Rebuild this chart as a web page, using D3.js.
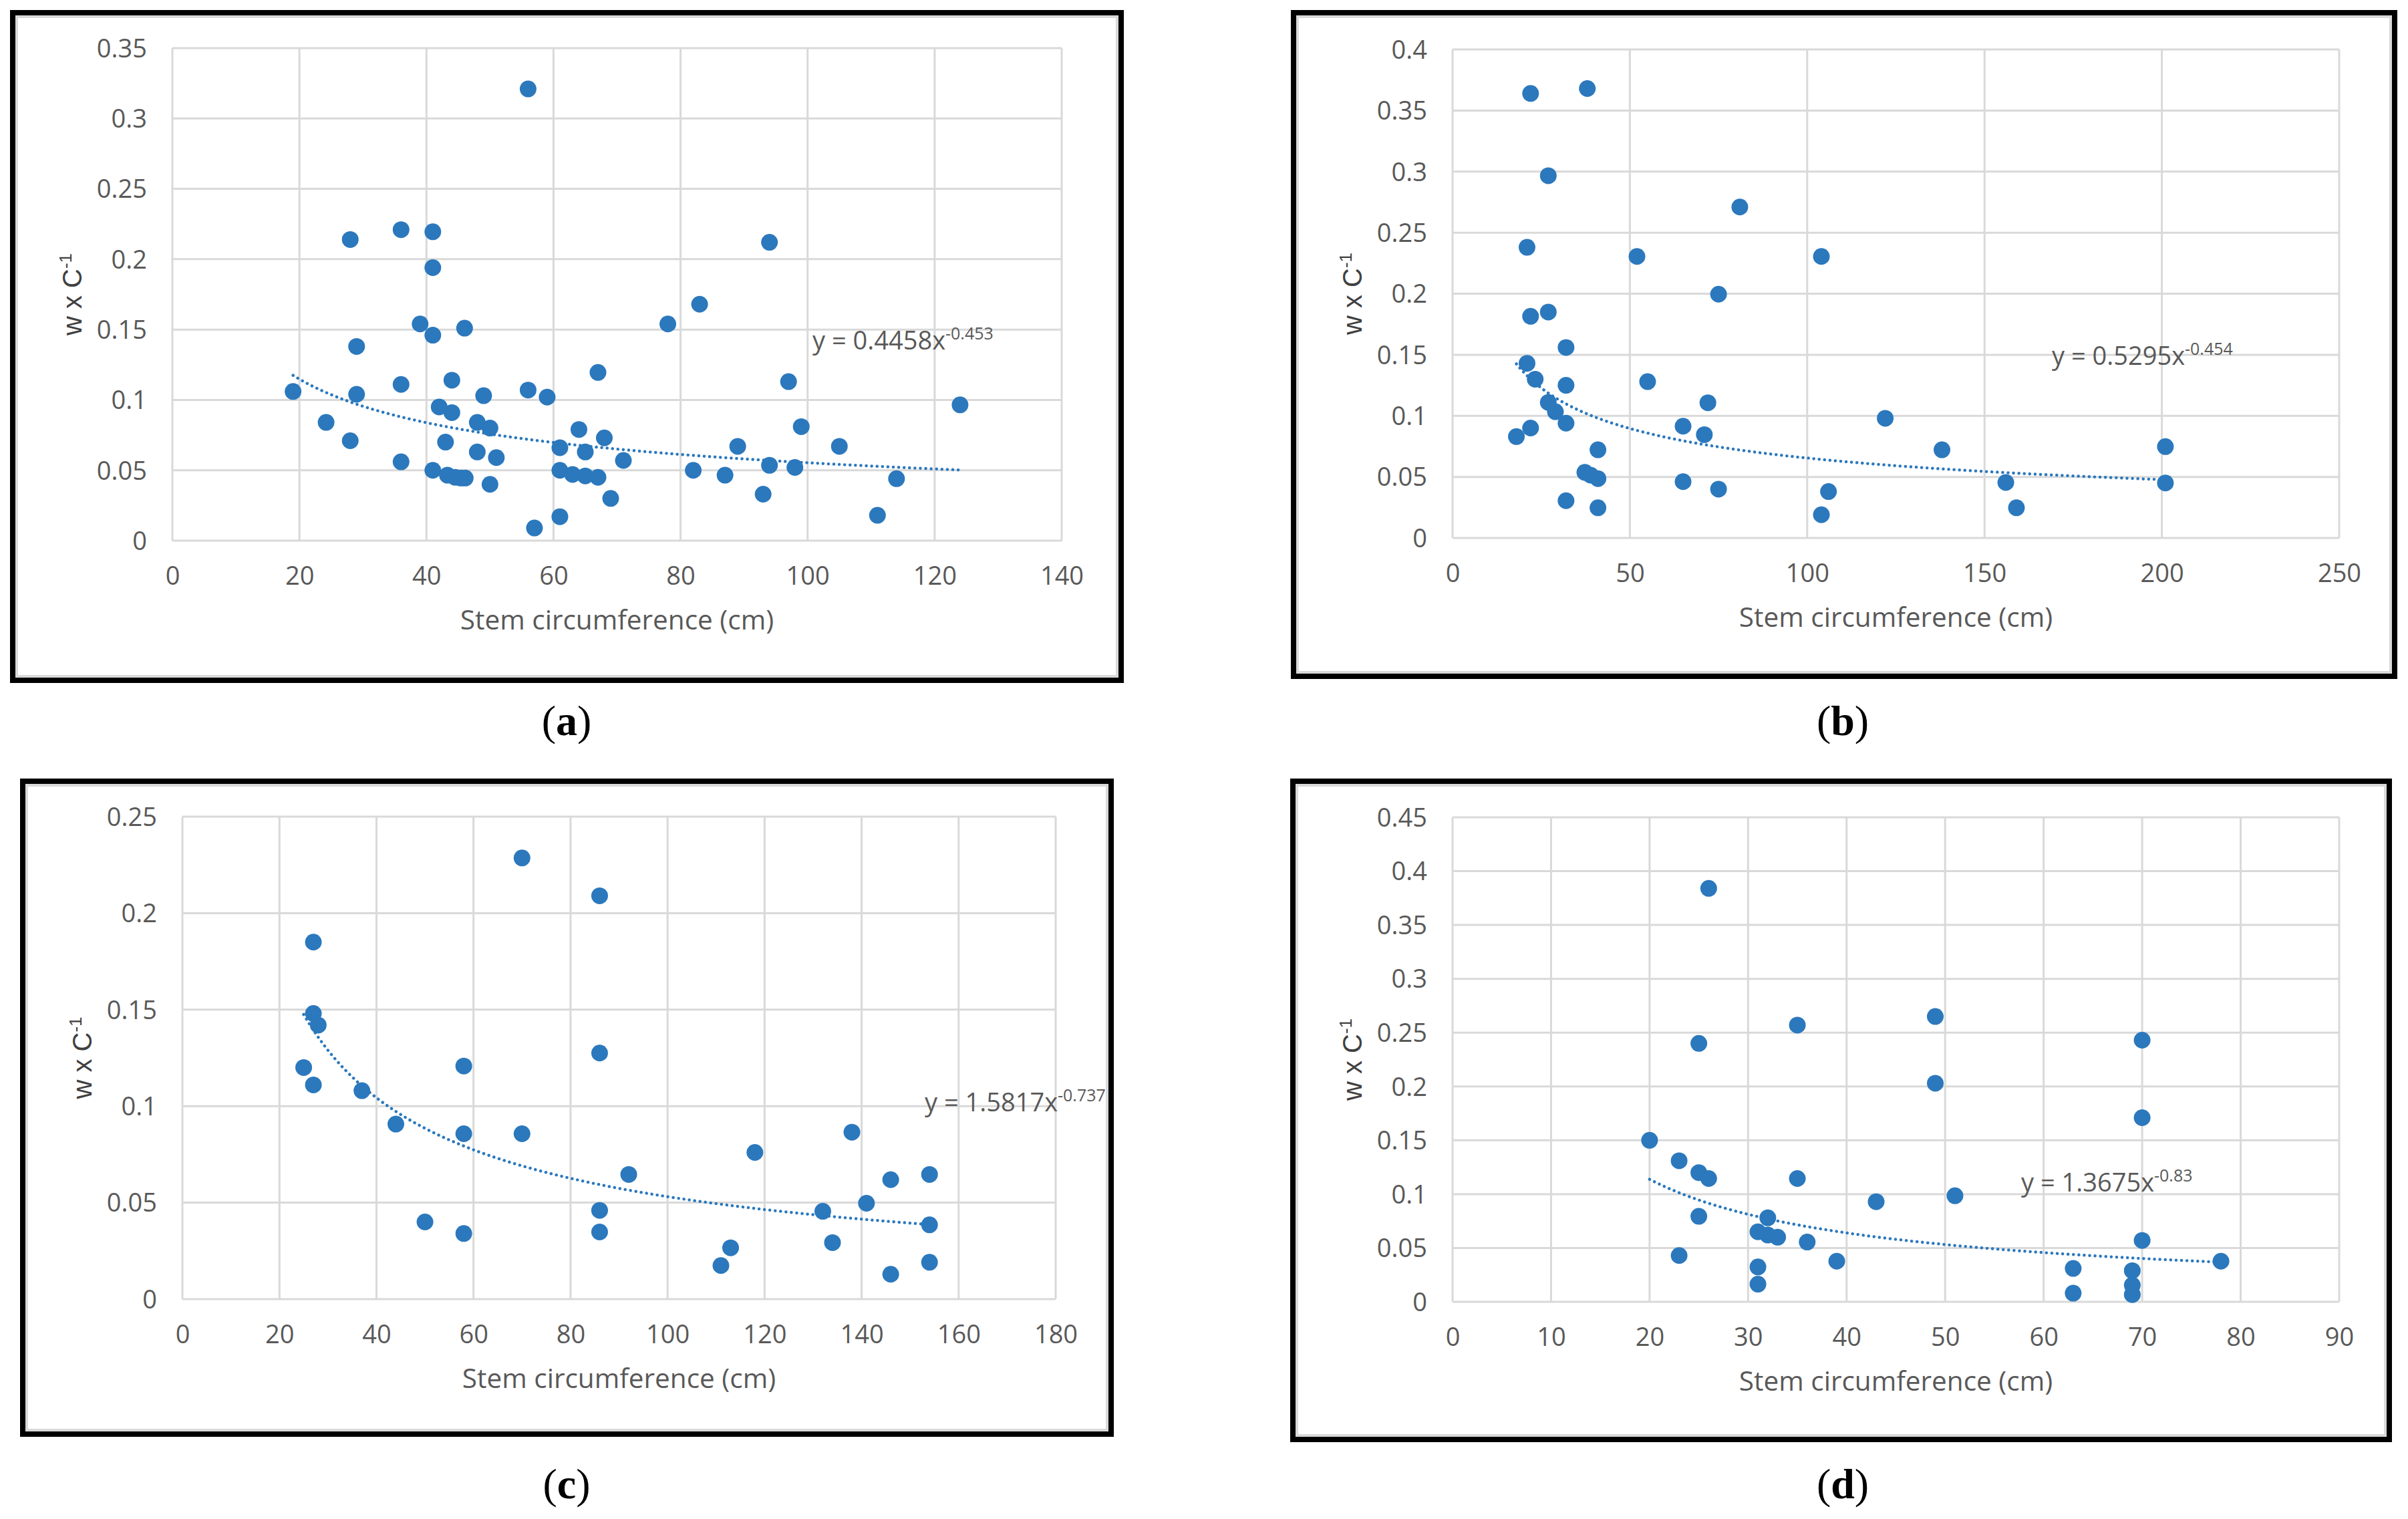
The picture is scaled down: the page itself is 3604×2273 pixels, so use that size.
<!DOCTYPE html>
<html><head><meta charset="utf-8">
<script src="https://cdn.jsdelivr.net/npm/d3@7"></script>
<style>
html,body{margin:0;padding:0;background:#fff;}
svg{display:block;}
</style></head>
<body>
<svg id="chart" width="3604" height="2273"></svg>
<script>
// ---------- DATA ----------
const aX = [19,24.2,28,28,29,29,36,36,36,39,41,41,41,41,42,43,44,44,43.3,44.5,45.4,46.1,46,48,48,49,50,50,51,56,56,57,59,61,61,61,63,64,65,65,67,67,68,69,71,78,82,83,87,89,93,94,94,97,98,99,105,111,114,124];
const aY = [0.106,0.084,0.214,0.071,0.138,0.104,0.221,0.111,0.056,0.154,0.2195,0.194,0.146,0.050,0.095,0.070,0.114,0.091,0.0465,0.045,0.0445,0.0445,0.151,0.084,0.063,0.103,0.080,0.040,0.059,0.321,0.107,0.009,0.102,0.066,0.050,0.017,0.047,0.079,0.063,0.046,0.1195,0.045,0.073,0.030,0.057,0.154,0.050,0.168,0.0465,0.067,0.033,0.212,0.0535,0.113,0.052,0.081,0.067,0.018,0.044,0.0965];

const bX = [18,21,21,22,22,22,23.3,27,27,27,29,32,32,32,32,38,37.3,38.9,41,41,41,52,55,65,65,71,72,75,75,81,104,104,106,122,138,156,159,201,201];
const bY = [0.083,0.238,0.143,0.364,0.1815,0.090,0.130,0.2966,0.185,0.111,0.1034,0.156,0.125,0.094,0.0305,0.368,0.0537,0.0515,0.0722,0.0486,0.0247,0.2305,0.128,0.0915,0.0461,0.0846,0.1107,0.1996,0.040,0.271,0.2305,0.019,0.038,0.098,0.0722,0.0454,0.0247,0.0748,0.045];

const cX = [25,27,27,27,28,37,44,50,58,58,58,70,70,86,86,86,86,92,111,113,118,132,134,138,141,146,146,154,154,154];
const cY = [0.120,0.185,0.148,0.111,0.142,0.108,0.0907,0.040,0.1208,0.0857,0.034,0.2286,0.0857,0.209,0.1275,0.046,0.0348,0.0646,0.0174,0.0266,0.076,0.0455,0.0293,0.0865,0.0497,0.0619,0.0129,0.0646,0.0385,0.0191];

const dX = [20,23,23,25,25,25,26,26,31,31,31,32,32,33,35,35,36,39,43,49,49,51,63,63,69,69,69,70,70,70,78];
const dY = [0.150,0.131,0.043,0.240,0.120,0.0794,0.384,0.1145,0.065,0.0324,0.0164,0.078,0.062,0.060,0.257,0.1145,0.0555,0.0377,0.093,0.265,0.203,0.0985,0.031,0.008,0.0289,0.0155,0.0067,0.243,0.171,0.057,0.0377];

// tick labels
const aXTicks = [0,20,40,60,80,100,120,140];
const aYTicks = [0,0.05,0.1,0.15,0.2,0.25,0.3,0.35];
const bXTicks = [0,50,100,150,200,250];
const bYTicks = [0,0.05,0.1,0.15,0.2,0.25,0.3,0.35,0.4];
const cXTicks = [0,20,40,60,80,100,120,140,160,180];
const cYTicks = [0,0.05,0.1,0.15,0.2,0.25];
const dXTicks = [0,10,20,30,40,50,60,70,80,90];
const dYTicks = [0,0.05,0.1,0.15,0.2,0.25,0.3,0.35,0.4,0.45];

// power trendlines  y = coef * x^exp  (from the equations shown)
const aFit = {coef:0.4458, exp:-0.453, from:19, to:124, label:"y = 0.4458x", sup:"-0.453"};
const bFit = {coef:0.5295, exp:-0.454, from:18, to:201, label:"y = 0.5295x", sup:"-0.454"};
const cFit = {coef:1.5817, exp:-0.737, from:25, to:154, label:"y = 1.5817x", sup:"-0.737"};
const dFit = {coef:1.3675, exp:-0.83, from:20, to:78, label:"y = 1.3675x", sup:"-0.83"};

const xTitle = "Stem circumference (cm)";
const panelLabels = ["a","b","c","d"];

// ---------- LAYOUT ----------
const layout = [
  {frame:[15,15,1682,1022],   plot:[258,72,1589,809],    eq:[1216,510],  lab:[848,1078]},
  {frame:[1932,15,3588,1016], plot:[2174,74,3501,805],   eq:[3071,533],  lab:[2758,1078]},
  {frame:[30,1165,1667,2150], plot:[273,1222,1580,1944], eq:[1384,1650], lab:[848,2220]},
  {frame:[1931,1165,3580,2158],plot:[2174,1223,3501,1948],eq:[3025,1770], lab:[2758,2220]}
];
const panels = [
  {x:aX,y:aY,xt:aXTicks,yt:aYTicks,fit:aFit},
  {x:bX,y:bY,xt:bXTicks,yt:bYTicks,fit:bFit},
  {x:cX,y:cY,xt:cXTicks,yt:cYTicks,fit:cFit},
  {x:dX,y:dY,xt:dXTicks,yt:dYTicks,fit:dFit}
];

const BLUE = "#2b78bd";
const GRID = "#d9d9d9";
const TXT = "#595959";
const svg = d3.select("#chart");
const fmt = v => String(+v.toFixed(2));

panels.forEach((p,i) => {
  const L = layout[i];
  const [fx0,fy0,fx1,fy1] = L.frame;
  const [px0,py0,px1,py1] = L.plot;
  const g = svg.append("g");

  // frame: black outer, light-gray inner
  g.append("rect").attr("x",fx0+4).attr("y",fy0+4).attr("width",fx1-fx0-8).attr("height",fy1-fy0-8)
    .attr("fill","#fff").attr("stroke","#000").attr("stroke-width",8);
  g.append("rect").attr("x",fx0+10).attr("y",fy0+10).attr("width",fx1-fx0-20).attr("height",fy1-fy0-20)
    .attr("fill","none").attr("stroke",GRID).attr("stroke-width",4);

  const x = d3.scaleLinear().domain([p.xt[0], p.xt[p.xt.length-1]]).range([px0,px1]);
  const y = d3.scaleLinear().domain([p.yt[0], p.yt[p.yt.length-1]]).range([py1,py0]);

  // gridlines
  g.append("g").selectAll("line.v").data(p.xt).join("line")
    .attr("x1",d=>x(d)).attr("x2",d=>x(d)).attr("y1",py0).attr("y2",py1)
    .attr("stroke",GRID).attr("stroke-width",3);
  g.append("g").selectAll("line.h").data(p.yt).join("line")
    .attr("x1",px0).attr("x2",px1).attr("y1",d=>y(d)).attr("y2",d=>y(d))
    .attr("stroke",GRID).attr("stroke-width",3);

  // axes (labels only, Excel style)
  const xAxis = d3.axisBottom(x).tickValues(p.xt).tickSize(0).tickPadding(0).tickFormat(d3.format("d"));
  const xa = g.append("g").attr("transform",`translate(0,${py1})`).call(xAxis);
  xa.select(".domain").remove();
  xa.selectAll("text").attr("y",53).attr("dy","0.35em")
    .attr("font-family","'Open Sans', sans-serif").attr("font-size",38).attr("fill",TXT);

  const yAxis = d3.axisLeft(y).tickValues(p.yt).tickSize(0).tickPadding(0).tickFormat(fmt);
  const ya = g.append("g").attr("transform",`translate(${px0},0)`).call(yAxis);
  ya.select(".domain").remove();
  ya.selectAll("text").attr("x",-38).attr("dy","0.35em")
    .attr("font-family","'Open Sans', sans-serif").attr("font-size",38).attr("fill",TXT);

  // x title
  g.append("text").attr("x",(px0+px1)/2).attr("y",py1+119).attr("dy","0.35em")
    .attr("text-anchor","middle").attr("font-family","'Open Sans', sans-serif")
    .attr("font-size",40.5).attr("fill",TXT).text(xTitle);

  // y title
  const yt = g.append("text").attr("transform",`translate(${px0-150},${(py0+py1)/2}) rotate(-90)`)
    .attr("text-anchor","middle").attr("dy","0.35em")
    .attr("font-family","'Liberation Sans', Arial, sans-serif").attr("font-size",40).attr("fill","#404040");
  yt.append("tspan").text("w x C");
  yt.append("tspan").attr("dy",-15).attr("font-size",26).text("-1");

  // points
  g.append("g").selectAll("circle").data(p.x.map((v,k)=>[v,p.y[k]])).join("circle")
    .attr("cx",d=>x(d[0])).attr("cy",d=>y(d[1])).attr("r",12.5).attr("fill",BLUE);

  // power trendline
  const f = p.fit;
  const pts = d3.range(0,201).map(k => {
    const xv = f.from + (f.to-f.from)*k/200;
    return [xv, f.coef*Math.pow(xv,f.exp)];
  });
  g.append("path").datum(pts)
    .attr("d", d3.line().x(d=>x(d[0])).y(d=>y(d[1])))
    .attr("fill","none").attr("stroke",BLUE).attr("stroke-width",4.5)
    .attr("stroke-linecap","round").attr("stroke-dasharray","0.1 8");

  // equation
  const eq = g.append("text").attr("x",L.eq[0]).attr("y",L.eq[1]).attr("dy","0.35em")
    .attr("font-family","'Open Sans', sans-serif").attr("font-size",38).attr("fill",TXT);
  eq.append("tspan").text(f.label);
  eq.append("tspan").attr("dy",-15).attr("font-size",25).text(f.sup);

  // panel label
  const pl = svg.append("text").attr("x",L.lab[0]).attr("y",L.lab[1]).attr("dy","0.35em")
    .attr("text-anchor","middle").attr("font-family","'Liberation Serif', 'DejaVu Serif', serif")
    .attr("font-size",64).attr("fill","#000");
  pl.append("tspan").text("(");
  pl.append("tspan").attr("font-weight","bold").text(panelLabels[i]);
  pl.append("tspan").text(")");
});
</script>
</body></html>
